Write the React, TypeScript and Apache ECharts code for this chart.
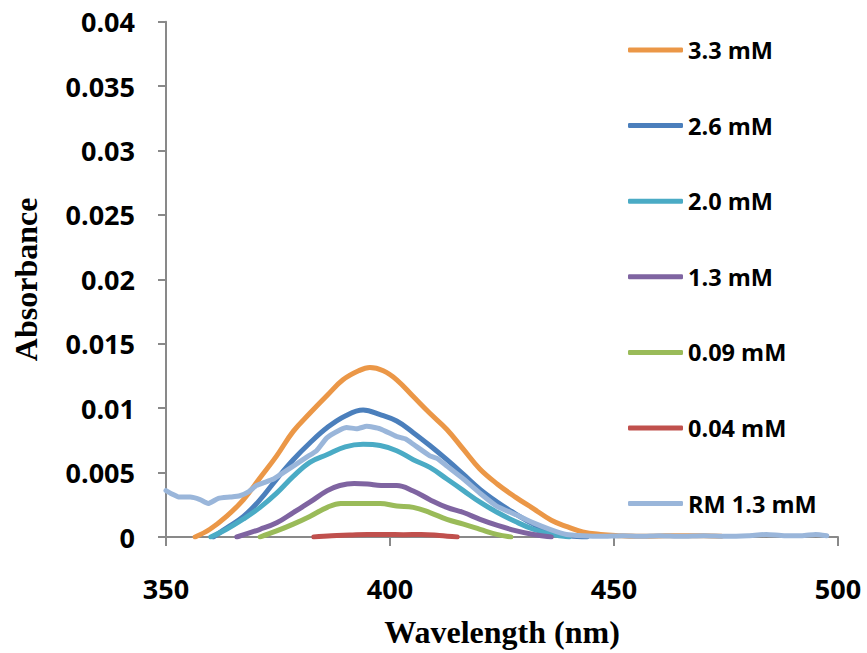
import React, { useEffect, useRef } from "react";
import * as echarts from "echarts";

const seriesNames = ["3.3 mM", "2.6 mM", "2.0 mM", "1.3 mM", "0.09 mM", "0.04 mM", "RM 1.3 mM"];
const seriesColors = ["#EB9747", "#4B7FBC", "#4AABC5", "#7F64A1", "#9ABB59", "#C0504D", "#9AB6DA"];

const xTicks = [350, 400, 450, 500];

const wl33 = [356.5, 359.8, 363.5, 367.3, 371, 374.7, 378.4, 382.1, 386, 389.5, 393, 395.5, 398.5, 401.5, 405.2, 408.9, 412.7, 416.4, 420, 424, 428, 432, 436, 439.5, 443, 447, 451, 455, 460, 465, 470, 474];
const abs33 = [0, 0.0006, 0.0016, 0.0029, 0.0046, 0.0063, 0.0082, 0.0096, 0.011, 0.0122, 0.0129, 0.01315, 0.0129, 0.0122, 0.0109, 0.0096, 0.00835, 0.0068, 0.0053, 0.0041, 0.0031, 0.0022, 0.0013, 0.0008, 0.0004, 0.0002, 0.0001, 0.00005, 0.00008, 0.0001, 0.0001, 0.00005];

const wl26 = [360.6, 363.5, 367.3, 371, 374.7, 378.4, 382.1, 386, 390, 394, 397.8, 401.5, 405.2, 408.9, 412.7, 416.4, 420.1, 424, 428, 432, 436, 440, 444];
const abs26 = [0, 0.0007, 0.0016, 0.0029, 0.0045, 0.006, 0.0073, 0.0085, 0.0094, 0.00985, 0.0095, 0.009, 0.0081, 0.0071, 0.006, 0.00486, 0.0037, 0.0027, 0.0018, 0.001, 0.0004, 0.0001, 0];

const wl20 = [360, 363.5, 367.3, 371, 374.7, 378.4, 382.1, 386, 390, 394, 397.8, 401.5, 405.2, 408.9, 412.7, 416.4, 420.1, 424, 428, 432, 436, 440];
const abs20 = [0, 0.0006, 0.0014, 0.0023, 0.0034, 0.0047, 0.0058, 0.0064, 0.007, 0.0072, 0.0071, 0.0067, 0.006, 0.0054, 0.0045, 0.0036, 0.0027, 0.0019, 0.0012, 0.0006, 0.0002, 0];

const wl13 = [365.8, 371, 374.7, 378.4, 382.1, 386, 388.8, 392, 395, 398, 401.5, 405.2, 408.9, 412.7, 416.4, 420.1, 424, 428, 432, 436];
const abs13 = [0, 0.0006, 0.0011, 0.0019, 0.0027, 0.0036, 0.004, 0.00416, 0.00412, 0.004, 0.004, 0.00357, 0.0029, 0.0023, 0.0019, 0.00137, 0.0009, 0.0005, 0.0002, 0];

const wl009 = [371, 374.7, 378.4, 382.1, 386, 389, 393, 397.8, 401.5, 405.2, 408.9, 412.7, 416.4, 420.1, 423.8, 427];
const abs009 = [0, 0.00047, 0.001, 0.0016, 0.0023, 0.0026, 0.0026, 0.0026, 0.0024, 0.0023, 0.0019, 0.00137, 0.001, 0.0006, 0.0002, 0];

const wl004 = [383, 387, 391, 395, 399, 403, 407, 411, 415];
const abs004 = [0, 0.0001, 0.00015, 0.0002, 0.0002, 0.00018, 0.0002, 0.00012, 0];

const wlRM = [350, 351, 353, 355.4, 357.6, 359.4, 361.7, 364.3, 366.5, 368.4, 370.2, 371.7, 374, 376.2, 378.4, 381.4, 383.6, 385.9, 388.8, 390.3, 392.6, 394.8, 397.8, 401.5, 403.5, 405.2, 408.9, 410.5, 412.7, 416.4, 420.1, 423.8, 428.3, 432, 435.7, 439.4, 443, 447, 452, 456, 460, 465, 470, 475, 480, 484, 488, 492, 495, 497.5];
const absRM = [0.0036, 0.0034, 0.0031, 0.0031, 0.0029, 0.0026, 0.003, 0.0031, 0.0032, 0.0035, 0.004, 0.0042, 0.0045, 0.005, 0.0055, 0.0062, 0.0067, 0.0077, 0.0083, 0.0085, 0.0084, 0.0086, 0.0084, 0.0078, 0.0076, 0.0072, 0.0063, 0.0061, 0.0055, 0.0045, 0.0034, 0.0024, 0.0017, 0.0011, 0.0006, 0.0002, 0.0001, 0.00005, 0.0001, 0.00005, 0.0001, 0.00005, 0.0001, 0.00005, 0.0001, 0.0002, 0.0001, 0.0001, 0.0002, 0.0001];

const allX = [wl33, wl26, wl20, wl13, wl009, wl004, wlRM];
const allY = [abs33, abs26, abs20, abs13, abs009, abs004, absRM];

const SANS = "'Open Sans', 'Noto Sans', sans-serif";
const SERIF = "'Liberation Serif', 'DejaVu Serif', serif";
const AXIS_GRAY = "#898989";

export default function App() {
  const ref = useRef<HTMLDivElement>(null);
  useEffect(() => {
    if (!ref.current) return;
    const chart = echarts.init(ref.current, undefined, { renderer: "svg" });
    const series = seriesNames.map((name, i) => ({
      name,
      type: "line",
      data: allX[i].map((x, j) => [x, allY[i][j]]),
      showSymbol: false,
      symbol: "none",
      smooth: i === 6 ? 0.15 : 0.4,
      lineStyle: { width: 5, color: seriesColors[i], cap: "round", join: "round" },
      itemStyle: { color: seriesColors[i] },
      clip: true,
    }));
    chart.setOption({
      animation: false,
      backgroundColor: "#ffffff",
      grid: { left: 166, right: 29, top: 21.7, bottom: 115.3, containLabel: false },
      xAxis: {
        type: "value",
        min: xTicks[0],
        max: xTicks[xTicks.length - 1],
        interval: 50,
        axisLine: { show: true, onZero: false, lineStyle: { color: AXIS_GRAY, width: 2 } },
        axisTick: { show: true, length: 9, lineStyle: { color: AXIS_GRAY, width: 2 } },
        splitLine: { show: false },
        axisLabel: { margin: 38, fontSize: 27, fontWeight: "bold", fontFamily: SANS, color: "#000" },
        name: "Wavelength (nm)",
        nameLocation: "middle",
        nameGap: 79,
        nameTextStyle: { fontFamily: SERIF, fontWeight: "bold", fontSize: 32, color: "#000" },
      },
      yAxis: {
        type: "value",
        min: 0,
        max: 0.04,
        interval: 0.005,
        axisLine: { show: true, lineStyle: { color: AXIS_GRAY, width: 2 } },
        axisTick: { show: true, length: 8, lineStyle: { color: AXIS_GRAY, width: 2 } },
        splitLine: { show: false },
        axisLabel: {
          margin: 31,
          fontSize: 27,
          fontWeight: "bold",
          fontFamily: SANS,
          color: "#000",
          formatter: (v: number) => String(+v.toFixed(3)),
        },
        name: "Absorbance",
        nameLocation: "middle",
        nameGap: 124,
        nameRotate: 90,
        nameTextStyle: { fontFamily: SERIF, fontWeight: "bold", fontSize: 32, color: "#000" },
      },
      legend: {
        data: seriesNames,
        orient: "vertical",
        left: 623,
        top: 33,
        itemWidth: 55,
        itemHeight: 5,
        itemGap: 51.6,
        icon: "roundRect",
        textStyle: { fontFamily: SANS, fontWeight: "bold", fontSize: 23.5, lineHeight: 24, color: "#000" },
      },
      series,
    });
    return () => chart.dispose();
  }, []);
  return (
    <div
      ref={ref}
      style={{ position: "absolute", left: 0, top: 0, width: 867, height: 653, background: "#fff" }}
    />
  );
}
